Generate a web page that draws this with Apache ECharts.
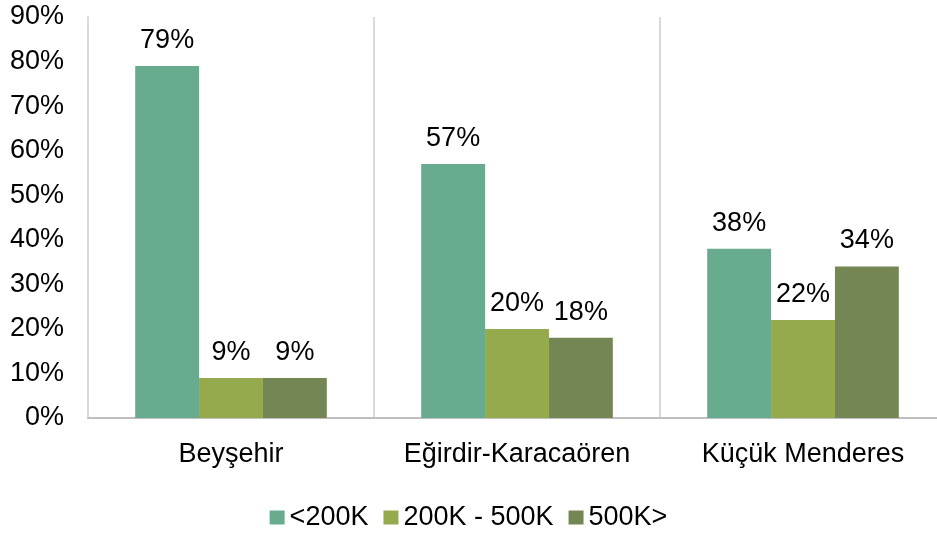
<!DOCTYPE html>
<html>
<head>
    <meta charset="UTF-8">
    <title>Chart</title>
</head>
<style>
    body{margin:0;}
    #chart{width:937px;height:540px;background:#fff;}
</style>
<body>
<div id="chart"></div>
<script src="https://cdn.jsdelivr.net/npm/echarts@6/dist/echarts.min.js"></script>
<script>
    var categories = ['Beyşehir', 'Eğirdir-Karacaören', 'Küçük Menderes'];
    var seriesNames = ['<200K', '200K - 500K', '500K>'];
    var under200 = [79, 57, 38];
    var mid200to500 = [9, 20, 22];
    var over500 = [9, 18, 34];
    var colors = ['#69ab8f', '#95a94d', '#738654'];

    var font = 'Arial, "Liberation Sans", sans-serif';
    var values = [under200, mid200to500, over500];

    var series = [];
    for (let i = 0; i < seriesNames.length; i++) {
        series.push({
            name: seriesNames[i],
            type: 'bar',
            data: values[i],
            barGap: '0%',
            barCategoryGap: '33%',
            itemStyle: {color: colors[i]},
            label: {
                show: true,
                position: 'top',
                distance: 12,
                formatter: '{c}%',
                color: '#000',
                fontFamily: font,
                fontSize: 27
            }
        });
    }

    var draw = echarts.init(document.getElementById('chart'));
    var option = {
        animation: false,
        color: colors,
        grid: {left: 88, top: 17, width: 858, bottom: 122, outerBoundsMode: 'none'},
        legend: {
            bottom: 4,
            left: 'center',
            itemWidth: 15,
            itemHeight: 14,
            itemGap: 15,
            icon: 'rect',
            textStyle: {fontFamily: font, fontSize: 27, color: '#000'},
            data: seriesNames
        },
        xAxis: {
            type: 'category',
            data: categories,
            axisLine: {lineStyle: {color: '#bfbfbf', width: 2}},
            axisTick: {show: false},
            axisLabel: {interval: 0, color: '#000', fontFamily: font, fontSize: 27, margin: 23},
            splitLine: {show: true, interval: 0, lineStyle: {color: '#d9d9d9', width: 2}}
        },
        yAxis: {
            type: 'value',
            min: 0,
            max: 90,
            interval: 10,
            axisLine: {show: true, lineStyle: {color: '#d9d9d9', width: 2}},
            axisTick: {show: false},
            splitLine: {show: false},
            axisLabel: {color: '#000', fontFamily: font, fontSize: 27, margin: 24, formatter: '{value}%'}
        },
        series: series
    };
    draw.setOption(option);
</script>
</body>
</html>
